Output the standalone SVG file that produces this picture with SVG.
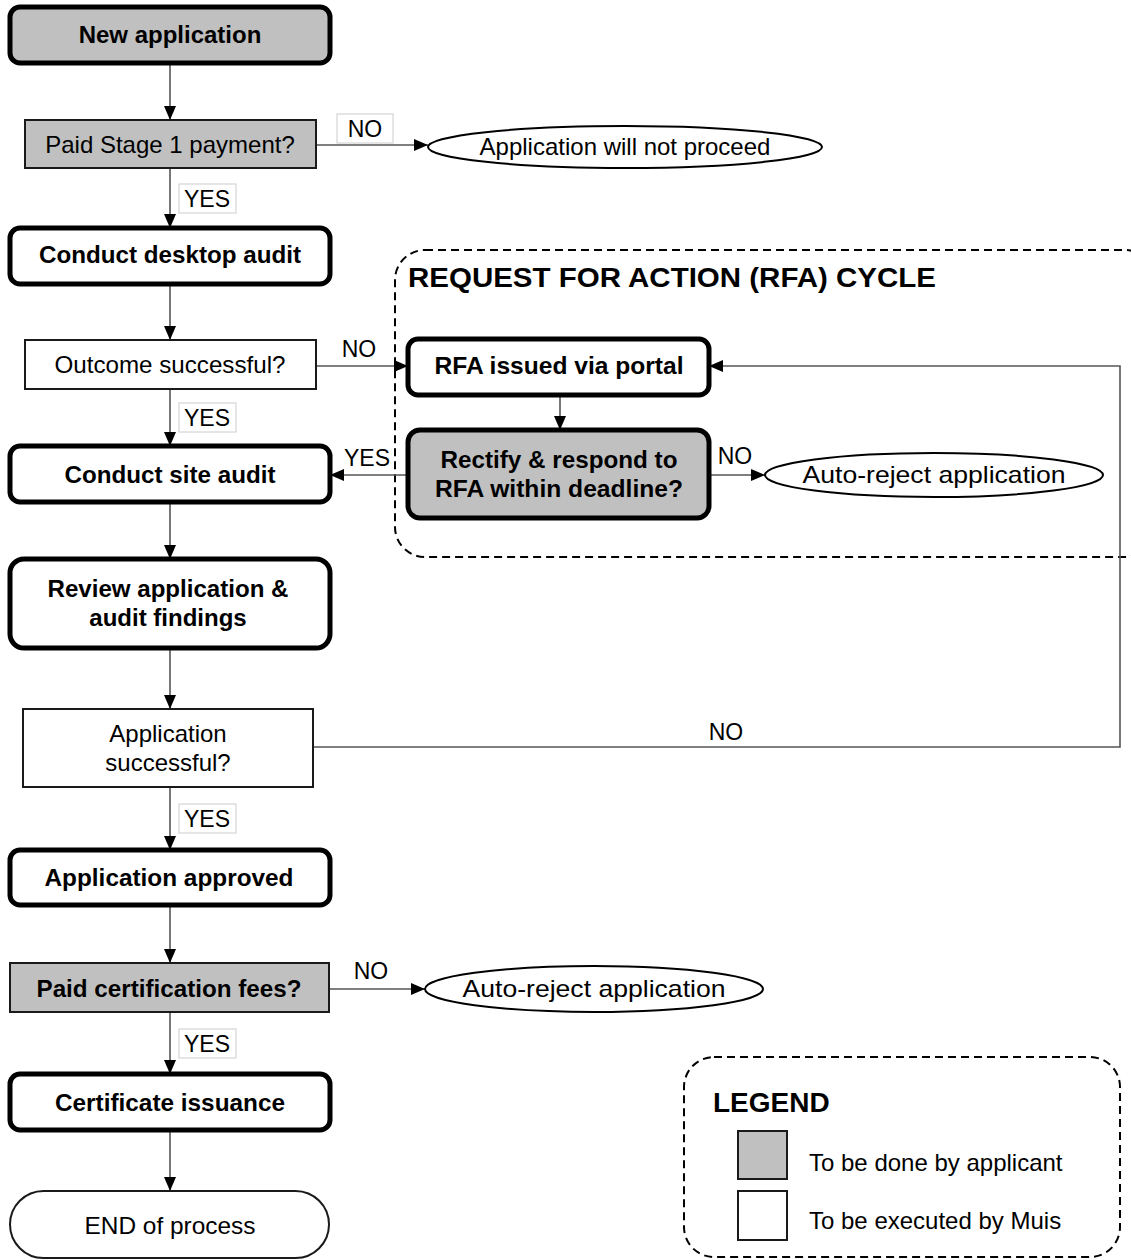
<svg xmlns="http://www.w3.org/2000/svg" width="1131" height="1260" viewBox="0 0 1131 1260">
<style>
text{font-family:"Liberation Sans",Arial,sans-serif;fill:#000}
.b{font-weight:bold;font-size:24px}
.n{font-size:24px}
.lbl{font-size:23px}
.thick{stroke:#000;stroke-width:5}
.thin{stroke:#1a1a1a;stroke-width:2}
.gray{fill:#c0c0c0}
.white{fill:#fff}
.edge{stroke:#555;stroke-width:1.6;fill:none}
.lbox{fill:#fff;stroke:#ccc;stroke-width:1}
.dash{fill:none;stroke:#000;stroke-width:2;stroke-dasharray:8 5}
.ell{fill:#fff;stroke:#000;stroke-width:2}
</style>
<defs>
<marker id="ah" viewBox="0 0 14 12" refX="14" refY="6" markerWidth="14" markerHeight="12" markerUnits="userSpaceOnUse" orient="auto">
<path d="M0,0 L14,6 L0,12 z" fill="#000"/>
</marker>
</defs>

<g id="rfa-cycle">
<rect class="dash" x="395" y="250" width="760" height="307" rx="30"/>
<text x="408" y="287" font-weight="bold" font-size="27" textLength="528" lengthAdjust="spacingAndGlyphs">REQUEST FOR ACTION (RFA) CYCLE</text>
</g>

<g id="legend">
<rect class="dash" x="684" y="1057" width="436" height="200" rx="30"/>
<text x="713" y="1112" font-weight="bold" font-size="28">LEGEND</text>
<rect x="738" y="1131" width="49" height="48" class="gray thin"/>
<rect x="738" y="1191" width="49" height="49" class="white thin"/>
<text x="809" y="1171" class="n">To be done by applicant</text>
<text x="809" y="1229" class="n">To be executed by Muis</text>
</g>

<g id="connectors">
<line class="edge" x1="170" y1="63" x2="170" y2="120" marker-end="url(#ah)"/>
<line class="edge" x1="316" y1="145" x2="428" y2="145" marker-end="url(#ah)"/>
<line class="edge" x1="170" y1="168" x2="170" y2="228" marker-end="url(#ah)"/>
<line class="edge" x1="170" y1="284" x2="170" y2="340" marker-end="url(#ah)"/>
<line class="edge" x1="316" y1="366" x2="408" y2="366" marker-end="url(#ah)"/>
<line class="edge" x1="170" y1="389" x2="170" y2="446" marker-end="url(#ah)"/>
<line class="edge" x1="560" y1="395" x2="560" y2="430" marker-end="url(#ah)"/>
<line class="edge" x1="408" y1="475" x2="330" y2="475" marker-end="url(#ah)"/>
<line class="edge" x1="709" y1="475" x2="765" y2="475" marker-end="url(#ah)"/>
<line class="edge" x1="170" y1="502" x2="170" y2="559" marker-end="url(#ah)"/>
<line class="edge" x1="170" y1="648" x2="170" y2="709" marker-end="url(#ah)"/>
<polyline class="edge" points="313,747 1120,747 1120,366 709,366" marker-end="url(#ah)"/>
<line class="edge" x1="170" y1="787" x2="170" y2="850" marker-end="url(#ah)"/>
<line class="edge" x1="170" y1="905" x2="170" y2="963" marker-end="url(#ah)"/>
<line class="edge" x1="329" y1="989" x2="425" y2="989" marker-end="url(#ah)"/>
<line class="edge" x1="170" y1="1012" x2="170" y2="1074" marker-end="url(#ah)"/>
<line class="edge" x1="170" y1="1130" x2="170" y2="1191" marker-end="url(#ah)"/>

<rect class="lbox" x="337" y="114" width="56" height="29"/>
<text x="365" y="137" class="lbl" text-anchor="middle">NO</text>
<rect class="lbox" x="179" y="184" width="57" height="29"/>
<text x="207" y="207" class="lbl" text-anchor="middle">YES</text>
<text x="359" y="357" class="lbl" text-anchor="middle">NO</text>
<rect class="lbox" x="179" y="403" width="57" height="29"/>
<text x="207" y="426" class="lbl" text-anchor="middle">YES</text>
<text x="367" y="466" class="lbl" text-anchor="middle">YES</text>
<text x="735" y="464" class="lbl" text-anchor="middle">NO</text>
<text x="726" y="740" class="lbl" text-anchor="middle">NO</text>
<rect class="lbox" x="179" y="804" width="57" height="29"/>
<text x="207" y="827" class="lbl" text-anchor="middle">YES</text>
<text x="371" y="979" class="lbl" text-anchor="middle">NO</text>
<rect class="lbox" x="179" y="1029" width="57" height="29"/>
<text x="207" y="1052" class="lbl" text-anchor="middle">YES</text>
</g>

<g id="new-application">
<rect x="10" y="7" width="320" height="56" rx="10" class="gray thick"/>
<text x="170" y="43" class="b" text-anchor="middle">New application</text>
</g>
<g id="paid-stage1">
<rect x="25" y="120" width="291" height="48" class="gray thin"/>
<text x="170" y="153" class="n" text-anchor="middle">Paid Stage 1 payment?</text>
</g>
<g id="not-proceed">
<ellipse cx="625" cy="147" rx="197" ry="21" class="ell"/>
<text x="625" y="155" class="n" text-anchor="middle">Application will not proceed</text>
</g>
<g id="desktop-audit">
<rect x="10" y="228" width="320" height="56" rx="10" class="white thick"/>
<text x="170" y="263" class="b" text-anchor="middle" textLength="262" lengthAdjust="spacingAndGlyphs">Conduct desktop audit</text>
</g>
<g id="outcome-successful">
<rect x="25" y="340" width="291" height="49" class="white thin"/>
<text x="170" y="373" class="n" text-anchor="middle" textLength="231" lengthAdjust="spacingAndGlyphs">Outcome successful?</text>
</g>
<g id="rfa-issued">
<rect x="408" y="339" width="301" height="56" rx="10" class="white thick"/>
<text x="559" y="374" class="b" text-anchor="middle" textLength="249" lengthAdjust="spacingAndGlyphs">RFA issued via portal</text>
</g>
<g id="rectify">
<rect x="408" y="430" width="301" height="88" rx="12" class="gray thick"/>
<text x="559" y="468" class="b" text-anchor="middle" textLength="237" lengthAdjust="spacingAndGlyphs">Rectify &amp; respond to</text>
<text x="559" y="497" class="b" text-anchor="middle" textLength="248" lengthAdjust="spacingAndGlyphs">RFA within deadline?</text>
</g>
<g id="auto-reject-1">
<ellipse cx="934" cy="475" rx="169" ry="22" class="ell"/>
<text x="934" y="483" font-size="24" text-anchor="middle" textLength="263" lengthAdjust="spacingAndGlyphs">Auto-reject application</text>
</g>
<g id="site-audit">
<rect x="10" y="446" width="320" height="56" rx="10" class="white thick"/>
<text x="170" y="483" class="b" text-anchor="middle" textLength="211" lengthAdjust="spacingAndGlyphs">Conduct site audit</text>
</g>
<g id="review">
<rect x="10" y="559" width="320" height="89" rx="14" class="white thick"/>
<text x="168" y="597" class="b" text-anchor="middle" textLength="241" lengthAdjust="spacingAndGlyphs">Review application &amp;</text>
<text x="168" y="626" class="b" text-anchor="middle">audit findings</text>
</g>
<g id="application-successful">
<rect x="23" y="709" width="290" height="78" class="white thin"/>
<text x="168" y="742" class="n" text-anchor="middle">Application</text>
<text x="168" y="771" class="n" text-anchor="middle">successful?</text>
</g>
<g id="approved">
<rect x="10" y="850" width="320" height="55" rx="10" class="white thick"/>
<text x="169" y="886" class="b" text-anchor="middle" textLength="249" lengthAdjust="spacingAndGlyphs">Application approved</text>
</g>
<g id="paid-cert">
<rect x="10" y="963" width="319" height="49" class="gray thin"/>
<text x="169" y="997" class="b" text-anchor="middle" textLength="265" lengthAdjust="spacingAndGlyphs">Paid certification fees?</text>
</g>
<g id="auto-reject-2">
<ellipse cx="594" cy="989" rx="169" ry="23" class="ell"/>
<text x="594" y="997" font-size="24" text-anchor="middle" textLength="263" lengthAdjust="spacingAndGlyphs">Auto-reject application</text>
</g>
<g id="certificate">
<rect x="10" y="1074" width="320" height="56" rx="10" class="white thick"/>
<text x="170" y="1111" class="b" text-anchor="middle" textLength="230" lengthAdjust="spacingAndGlyphs">Certificate issuance</text>
</g>
<g id="end">
<rect x="10" y="1191" width="319" height="67" rx="33.5" class="white thin"/>
<text x="170" y="1234" class="n" text-anchor="middle" textLength="171" lengthAdjust="spacingAndGlyphs">END of process</text>
</g>
</svg>
